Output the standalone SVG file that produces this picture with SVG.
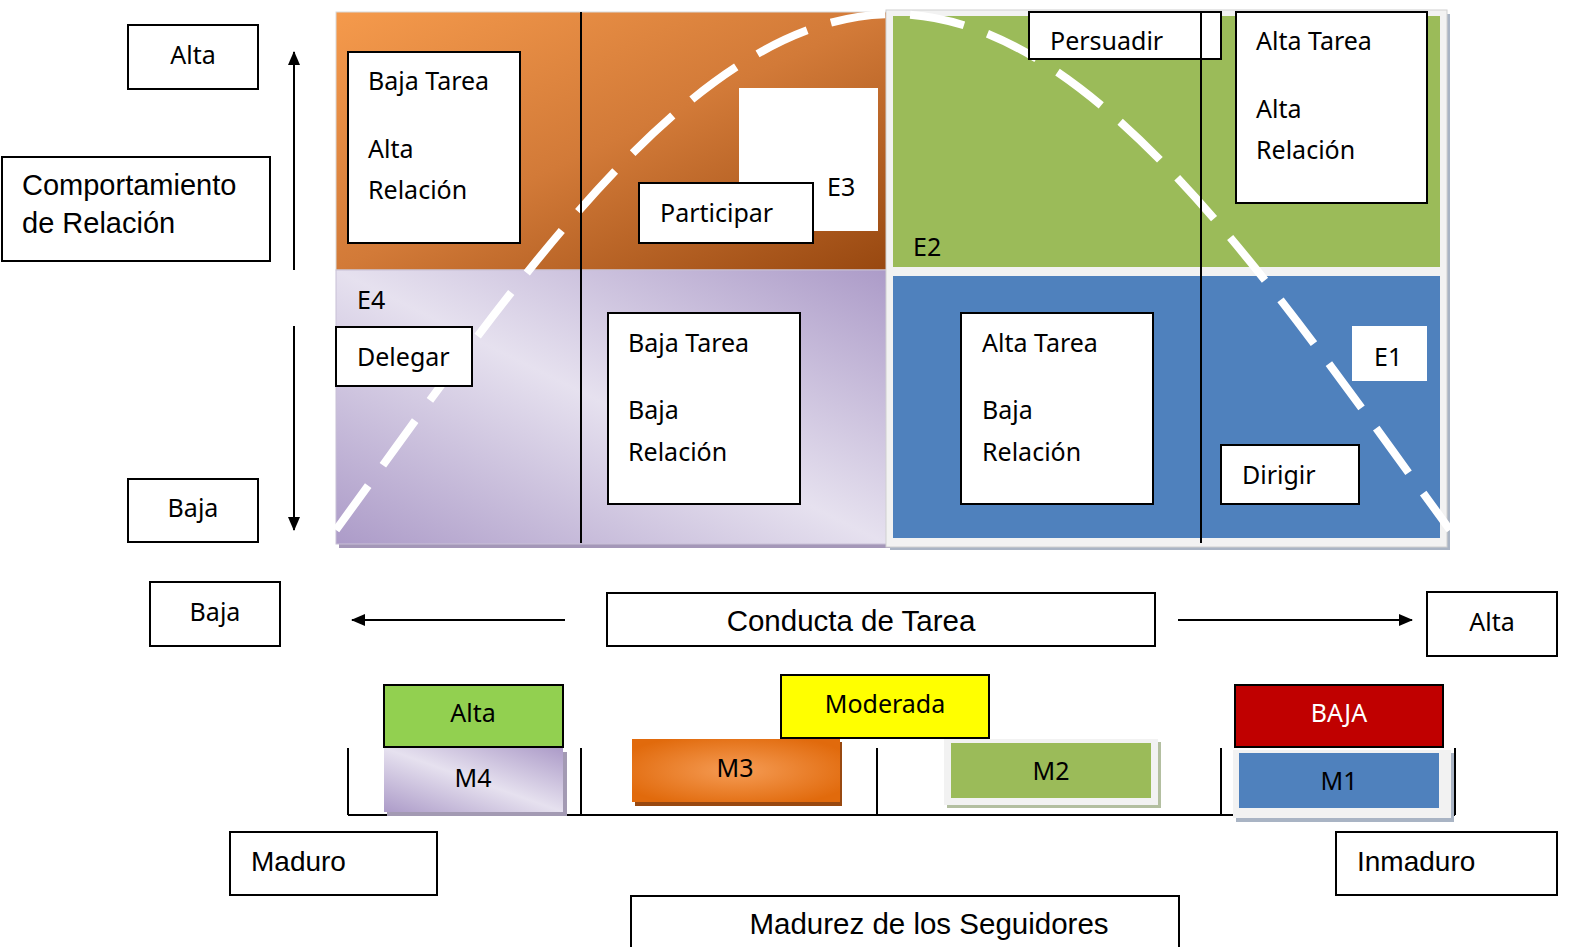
<svg xmlns="http://www.w3.org/2000/svg" width="1569" height="947" viewBox="0 0 1569 947">
<style>
.c{font-family:"Noto Sans","Open Sans",sans-serif;font-size:25px;fill:#000}
.a{font-family:"Liberation Sans",Arial,sans-serif;font-size:29px;fill:#000}
.mid{text-anchor:middle}
.box{fill:#fff;stroke:#000;stroke-width:2}
.wbox{fill:#fff;stroke:none}
.ln{stroke:#000;stroke-width:2;fill:none}
.frame{fill:#f2f2f2;stroke:#d0d0d0;stroke-width:1}
</style>
<defs>
<linearGradient id="gOr" x1="0" y1="0" x2="1" y2="1">
<stop offset="0" stop-color="#f59a4c"/>
<stop offset="0.5" stop-color="#d27a38"/>
<stop offset="1" stop-color="#984810"/>
</linearGradient>
<linearGradient id="gLav" x1="0" y1="1" x2="1" y2="0">
<stop offset="0" stop-color="#ac9bc8"/>
<stop offset="0.5" stop-color="#e6e1ef"/>
<stop offset="1" stop-color="#ac9bc8"/>
</linearGradient>
<radialGradient id="gM3" cx="0.5" cy="0.5" r="0.6">
<stop offset="0" stop-color="#f59c55"/>
<stop offset="1" stop-color="#e16a0c"/>
</radialGradient>
<marker id="ah" markerWidth="14" markerHeight="12" refX="13" refY="6" orient="auto" markerUnits="userSpaceOnUse">
<path d="M0,0 L14,6 L0,12 Z" fill="#000"/>
</marker>
<clipPath id="cpP"><rect x="1029" y="12" width="192" height="40"/></clipPath>
</defs>

<g id="quadrants">
<rect x="339" y="16" width="551" height="532" fill="#a497b8"/>
<rect x="336" y="12" width="551" height="258" fill="url(#gOr)" stroke="#d9d9d9" stroke-width="1"/>
<rect x="336" y="270" width="551" height="274" fill="url(#gLav)" stroke="#c8c0d6" stroke-width="1"/>
<rect x="890" y="14" width="560" height="536" fill="#a9b4c4"/>
<rect x="886" y="10" width="561" height="537" class="frame"/>
<rect x="893" y="16" width="547" height="251" fill="#9bbb59"/>
<rect x="893" y="276" width="547" height="262" fill="#4f81bd"/>
</g>

<g id="connectors">
<path d="M336,530 C513,287 693,14 893,14 C1093,14 1273,287 1450,530" fill="none" stroke="#fff" stroke-width="8" stroke-dasharray="55 25"/>
<line x1="294" y1="270" x2="294" y2="52" class="ln" marker-end="url(#ah)"/>
<line x1="294" y1="326" x2="294" y2="530" class="ln" marker-end="url(#ah)"/>
<line x1="565" y1="620" x2="352" y2="620" class="ln" marker-end="url(#ah)"/>
<line x1="1178" y1="620" x2="1412" y2="620" class="ln" marker-end="url(#ah)"/>
</g>

<g id="box-orange">
<rect x="348" y="52" width="172" height="191" class="box"/>
<text x="368" y="90" class="c">Baja Tarea</text>
<text x="368" y="158" class="c">Alta</text>
<text x="368" y="199" class="c">Relación</text>
</g>
<g id="e3">
<rect x="739" y="88" width="139" height="143" class="wbox"/>
<text x="827" y="196" class="c">E3</text>
</g>
<g id="participar">
<rect x="639" y="183" width="174" height="60" class="box"/>
<text x="660" y="222" class="c">Participar</text>
</g>
<g id="e4"><text x="357" y="309" class="c">E4</text></g>
<g id="delegar">
<rect x="336" y="327" width="136" height="59" class="box"/>
<text x="357" y="366" class="c">Delegar</text>
</g>
<g id="box-lavender">
<rect x="608" y="313" width="192" height="191" class="box"/>
<text x="628" y="352" class="c">Baja Tarea</text>
<text x="628" y="419" class="c">Baja</text>
<text x="628" y="461" class="c">Relación</text>
</g>
<g id="persuadir">
<rect x="1029" y="12" width="192" height="47" class="box"/>
<text x="1050" y="50" class="c" clip-path="url(#cpP)">Persuadir</text>
</g>
<g id="box-green">
<rect x="1236" y="12" width="191" height="191" class="box"/>
<text x="1256" y="50" class="c">Alta Tarea</text>
<text x="1256" y="118" class="c">Alta</text>
<text x="1256" y="159" class="c">Relación</text>
</g>
<g id="e2"><text x="913" y="256" class="c">E2</text></g>
<g id="box-blue">
<rect x="961" y="313" width="192" height="191" class="box"/>
<text x="982" y="352" class="c">Alta Tarea</text>
<text x="982" y="419" class="c">Baja</text>
<text x="982" y="461" class="c">Relación</text>
</g>
<g id="e1">
<rect x="1352" y="326" width="75" height="55" class="wbox"/>
<text x="1374" y="366" class="c">E1</text>
</g>
<g id="dirigir">
<rect x="1221" y="445" width="138" height="59" class="box"/>
<text x="1242" y="484" class="c">Dirigir</text>
</g>

<g id="dividers">
<line x1="581" y1="12" x2="581" y2="543" class="ln"/>
<line x1="1201" y1="12" x2="1201" y2="543" class="ln"/>
</g>

<g id="rel-alta">
<rect x="128" y="25" width="130" height="64" class="box"/>
<text x="193" y="64" class="c mid">Alta</text>
</g>
<g id="rel-title">
<rect x="2" y="157" width="268" height="104" class="box"/>
<text x="22" y="195" class="a">Comportamiento</text>
<text x="22" y="233" class="a">de Relación</text>
</g>
<g id="rel-baja">
<rect x="128" y="479" width="130" height="63" class="box"/>
<text x="193" y="517" class="c mid">Baja</text>
</g>

<g id="task-baja">
<rect x="150" y="582" width="130" height="64" class="box"/>
<text x="215" y="621" class="c mid">Baja</text>
</g>
<g id="task-title">
<rect x="607" y="593" width="548" height="53" class="box"/>
<text x="851" y="631" class="a mid" style="font-size:29.5px">Conducta de Tarea</text>
</g>
<g id="task-alta">
<rect x="1427" y="592" width="130" height="64" class="box"/>
<text x="1492" y="631" class="c mid">Alta</text>
</g>

<g id="scale">
<line x1="348" y1="815" x2="1455" y2="815" class="ln"/>
<line x1="348" y1="748" x2="348" y2="815" class="ln"/>
<line x1="581" y1="748" x2="581" y2="815" class="ln"/>
<line x1="877" y1="748" x2="877" y2="815" class="ln"/>
<line x1="1221" y1="748" x2="1221" y2="815" class="ln"/>
<line x1="1455" y1="748" x2="1455" y2="815" class="ln"/>
</g>

<g id="m4">
<rect x="387" y="752" width="180" height="64" fill="#a39ab3"/>
<rect x="384" y="748" width="179" height="64" fill="url(#gLav)"/>
<text x="473" y="787" class="c mid">M4</text>
</g>
<g id="alta-mat">
<rect x="384" y="685" width="179" height="62" fill="#92d050" stroke="#000" stroke-width="2"/>
<text x="473" y="722" class="c mid">Alta</text>
</g>
<g id="m3">
<rect x="635" y="742" width="207" height="64" fill="#984810"/>
<rect x="632" y="739" width="208" height="63" fill="url(#gM3)"/>
<text x="735" y="777" class="c mid">M3</text>
</g>
<g id="moderada">
<rect x="781" y="675" width="208" height="63" fill="#ffff00" stroke="#000" stroke-width="2"/>
<text x="885" y="713" class="c mid">Moderada</text>
</g>
<g id="m2">
<rect x="947" y="742" width="214" height="66" fill="#b3bfa0"/>
<rect x="944" y="739" width="214" height="66" fill="#f2f2f2"/>
<rect x="951" y="743" width="200" height="55" fill="#9bbb59"/>
<text x="1051" y="780" class="c mid">M2</text>
</g>
<g id="m1">
<rect x="1236" y="753" width="218" height="69" fill="#a9b4c4"/>
<rect x="1233" y="750" width="218" height="68" fill="#f2f2f2"/>
<rect x="1239" y="753" width="200" height="55" fill="#4f81bd"/>
<text x="1339" y="790" class="c mid">M1</text>
</g>
<g id="baja-mat">
<rect x="1235" y="685" width="208" height="62" fill="#c00000" stroke="#000" stroke-width="2"/>
<text x="1339" y="722" class="c mid" style="fill:#fff">BAJA</text>
</g>

<g id="maduro">
<rect x="230" y="832" width="207" height="63" class="box"/>
<text x="251" y="871" class="a" style="font-size:28px">Maduro</text>
</g>
<g id="inmaduro">
<rect x="1336" y="832" width="221" height="63" class="box"/>
<text x="1357" y="871" class="a" style="font-size:28px">Inmaduro</text>
</g>
<g id="madurez">
<rect x="631" y="896" width="548" height="60" class="box"/>
<text x="929" y="934" class="a mid" style="font-size:29.5px">Madurez de los Seguidores</text>
</g>
</svg>
